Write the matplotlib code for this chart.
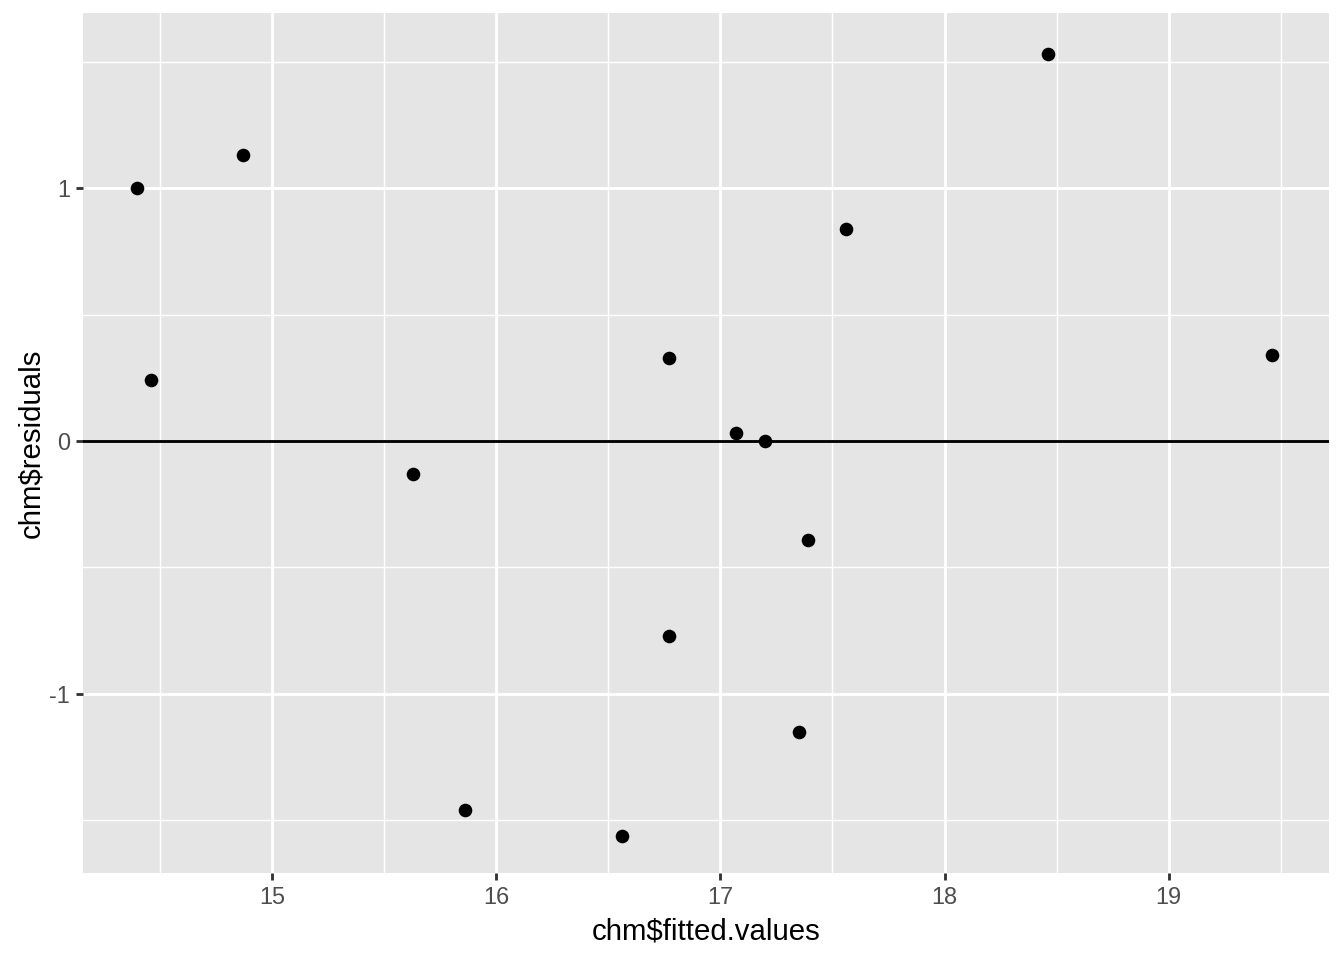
import numpy as np
import matplotlib.pyplot as plt
from matplotlib.ticker import MultipleLocator

plt.rcParams['font.family'] = ['Liberation Sans', 'DejaVu Sans']
plt.rcParams['axes.unicode_minus'] = False

# fitted values vs residuals
fitted = [14.40, 14.87, 14.46, 15.63, 15.86, 16.56, 16.77, 16.77,
          17.07, 17.20, 17.39, 17.35, 17.56, 18.46, 19.46]
resid = [1.00, 1.13, 0.24, -0.13, -1.46, -1.56, 0.33, -0.77,
         0.03, 0.00, -0.39, -1.15, 0.84, 1.53, 0.34]

x_ticks = [15, 16, 17, 18, 19]
y_ticks = [-1, 0, 1]

fig = plt.figure(figsize=(7, 5), dpi=192)
ax = fig.add_axes([83 / 1344, 1 - 873 / 960, 1246 / 1344, 860 / 960])
ax.set_facecolor('#E5E5E5')
for s in ax.spines.values():
    s.set_visible(False)

ax.set_xlim(14.157, 19.715)
ax.set_ylim(-1.708, 1.692)
ax.set_xticks(x_ticks)
ax.set_yticks(y_ticks)
ax.xaxis.set_minor_locator(MultipleLocator(0.5))
ax.yaxis.set_minor_locator(MultipleLocator(0.5))
ax.grid(which='major', color='white', linewidth=1.07)
ax.grid(which='minor', color='white', linewidth=0.53)
ax.tick_params(which='minor', length=0)
ax.tick_params(which='major', length=2.75, width=1.07, color='#333333',
               labelsize=8.8, labelcolor='#4D4D4D', pad=2.2)
ax.set_axisbelow(True)

ax.axhline(0, color='black', linewidth=1.07, zorder=2)
ax.scatter(fitted, resid, s=26, color='black', linewidths=0, zorder=3)

ax.set_xlabel('chm$fitted.values', fontsize=11, labelpad=3)
ax.set_ylabel('chm$residuals', fontsize=11, labelpad=1.5)

fig.savefig('out.png', dpi=192)
